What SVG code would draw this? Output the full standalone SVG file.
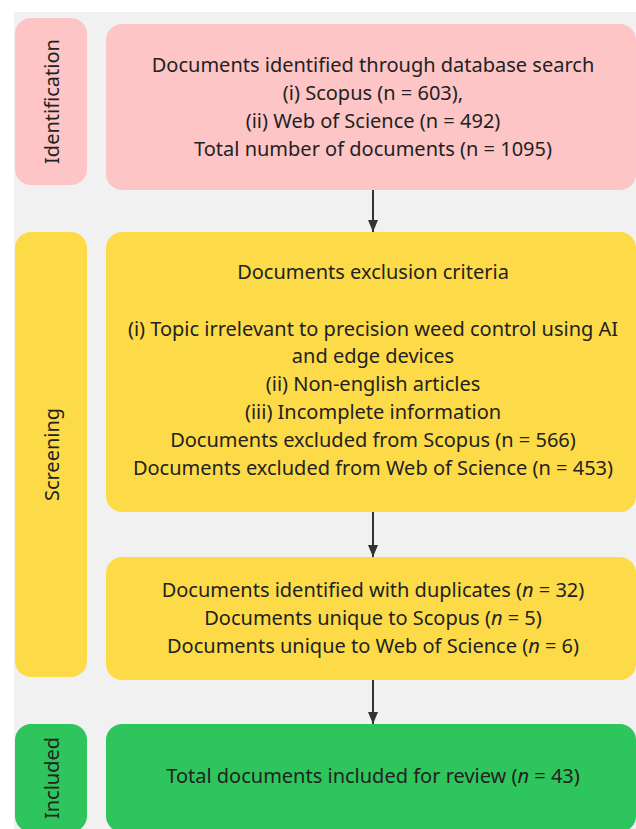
<svg xmlns="http://www.w3.org/2000/svg" width="636" height="829" viewBox="0 0 636 829">
  <defs>
    <marker id="arrow" viewBox="0 0 12 10" refX="12" refY="5" markerWidth="12" markerHeight="10" markerUnits="userSpaceOnUse" orient="auto">
      <path d="M0,0 L12,5 L0,10 Z" fill="#333333"/>
    </marker>
  </defs>
  <style>
    .pink { fill: #fdc5c6; }
    .yellow { fill: #fddb48; }
    .green { fill: #2fc55d; }
    .t { font-family: "Noto Sans", "Open Sans", sans-serif; font-size: 20px; fill: #222222; text-anchor: middle; }
    .conn { stroke: #333333; stroke-width: 2; fill: none; }
  </style>
  <rect x="0" y="0" width="636" height="829" fill="#ffffff"/>
  <rect x="14" y="12" width="640" height="830" fill="#f1f1f1"/>

  <g id="identification-label">
    <rect class="pink" x="15" y="18" width="72" height="167" rx="16"/>
    <text class="t" transform="translate(59,101.5) rotate(-90)">Identification</text>
  </g>
  <g id="identification">
    <rect class="pink" x="106" y="24" width="530" height="166" rx="16"/>
    <text class="t" x="373" y="71.5">Documents identified through database search</text>
    <text class="t" x="373" y="99.5">(i) Scopus (n = 603),</text>
    <text class="t" x="373" y="127.5">(ii) Web of Science (n = 492)</text>
    <text class="t" x="373" y="155.5">Total number of documents (n = 1095)</text>
  </g>

  <g id="screening-label">
    <rect class="yellow" x="15" y="232" width="72" height="445" rx="16"/>
    <text class="t" transform="translate(59,454.5) rotate(-90)">Screening</text>
  </g>
  <g id="exclusion">
    <rect class="yellow" x="106" y="232" width="530" height="280" rx="16"/>
    <text class="t" x="373" y="279">Documents exclusion criteria</text>
    <text class="t" x="373" y="335.5">(i) Topic irrelevant to precision weed control using AI</text>
    <text class="t" x="373" y="363">and edge devices</text>
    <text class="t" x="373" y="391">(ii) Non-english articles</text>
    <text class="t" x="373" y="419">(iii) Incomplete information</text>
    <text class="t" x="373" y="447">Documents excluded from Scopus (n = 566)</text>
    <text class="t" x="373" y="475">Documents excluded from Web of Science (n = 453)</text>
  </g>
  <g id="duplicates">
    <rect class="yellow" x="106" y="557" width="530" height="123" rx="16"/>
    <text class="t" x="373" y="596.5">Documents identified with duplicates (<tspan font-style="italic">n</tspan> = 32)</text>
    <text class="t" x="373" y="624.5">Documents unique to Scopus (<tspan font-style="italic">n</tspan> = 5)</text>
    <text class="t" x="373" y="652.5">Documents unique to Web of Science (<tspan font-style="italic">n</tspan> = 6)</text>
  </g>

  <g id="included-label">
    <rect class="green" x="15" y="724" width="72" height="108" rx="16"/>
    <text class="t" transform="translate(59,778) rotate(-90)">Included</text>
  </g>
  <g id="included">
    <rect class="green" x="106" y="724" width="530" height="108" rx="16"/>
    <text class="t" x="373" y="783">Total documents included for review (<tspan font-style="italic">n</tspan> = 43)</text>
  </g>

  <g id="connectors">
    <line class="conn" x1="373" y1="190" x2="373" y2="232" marker-end="url(#arrow)"/>
    <line class="conn" x1="373" y1="512" x2="373" y2="557" marker-end="url(#arrow)"/>
    <line class="conn" x1="373" y1="680" x2="373" y2="724" marker-end="url(#arrow)"/>
  </g>
</svg>
